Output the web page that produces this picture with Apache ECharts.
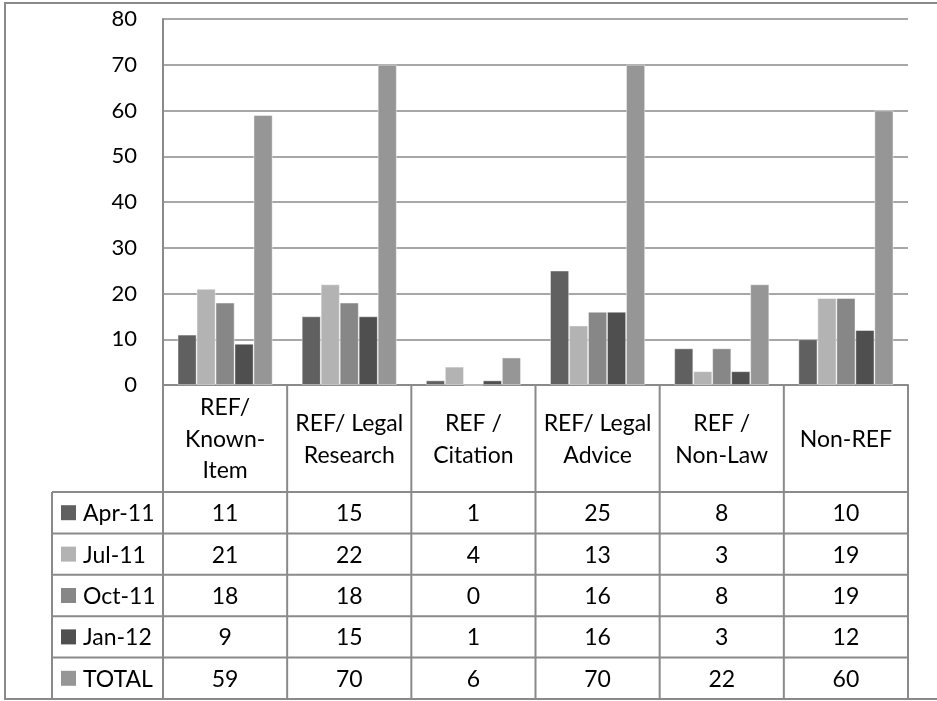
<!DOCTYPE html>
<html>
<head>
<meta charset="utf-8">
<script src="https://cdn.jsdelivr.net/npm/echarts@6/dist/echarts.min.js"></script>
<style>
  html, body { margin: 0; padding: 0; background: #fff; }
  #chart { width: 937px; height: 701px; }
</style>
</head>
<body>
<div id="chart"></div>
<script>
// Query categories (header row of the data table)
const categories = ['REF/\nKnown-\nItem', 'REF/ Legal\nResearch', 'REF /\nCitation', 'REF/ Legal\nAdvice', 'REF /\nNon-Law', 'Non-REF'];

// One series per sampling period, plus the total
const seriesNames = ['Apr-11', 'Jul-11', 'Oct-11', 'Jan-12', 'TOTAL'];
const apr11 = [11, 15, 1, 25, 8, 10];
const jul11 = [21, 22, 4, 13, 3, 19];
const oct11 = [18, 18, 0, 16, 8, 19];
const jan12 = [9, 15, 1, 16, 3, 12];
const total = [59, 70, 6, 70, 22, 60];

// Value axis ticks
const yMin = 0;
const yMax = 80;
const yStep = 10;

const seriesData = [apr11, jul11, oct11, jan12, total];
const colors = ['#606060', '#b3b3b3', '#878787', '#4f4f4f', '#969696'];

const FONT = 'Lato, "Open Sans", sans-serif';
const LINE = '#8a8a8a';
const TABLE_FONT = '23px ' + FONT;

const chart = echarts.init(document.getElementById('chart'), null, { renderer: 'canvas' });

const option = {
  backgroundColor: '#fff',
  animation: false,
  color: colors,
  grid: { left: 163, top: 19, right: 29, bottom: 316, containLabel: false },
  xAxis: {
    type: 'category',
    data: categories,
    axisLine: { show: true, lineStyle: { color: LINE, width: 2 } },
    axisTick: { show: false },
    axisLabel: { show: false },
    splitLine: { show: false }
  },
  yAxis: {
    type: 'value',
    min: yMin,
    max: yMax,
    interval: yStep,
    axisLine: { show: true, lineStyle: { color: LINE, width: 2 } },
    axisTick: { show: false },
    axisLabel: { color: '#000', fontFamily: FONT, fontSize: 22, margin: 26 },
    splitLine: { show: true, lineStyle: { color: LINE, width: 1.5 } }
  },
  series: seriesNames.map((name, i) => ({
    name: name,
    type: 'bar',
    data: seriesData[i],
    barGap: '0%',
    barCategoryGap: '23.5%',
    itemStyle: { color: colors[i], borderColor: 'rgba(255,255,255,0.55)', borderWidth: 0.8 }
  }))
};

chart.setOption(option);

// Data table below the plot: header row with the categories,
// then one row per series with its legend key and values.
function buildTable() {
  const yZero = chart.convertToPixel({ yAxisIndex: 0 }, 0);
  const c0 = chart.convertToPixel({ xAxisIndex: 0 }, 0);
  const c1 = chart.convertToPixel({ xAxisIndex: 0 }, 1);
  const band = c1 - c0;
  const left = c0 - band / 2;
  const right = left + band * categories.length;
  const legendLeft = 52;
  const headerH = 107;
  const rowH = 41.4;
  const headerBottom = yZero + headerH;
  const tableBottom = headerBottom + rowH * seriesNames.length;

  const els = [];
  const line = (x1, y1, x2, y2) => els.push({
    type: 'line', silent: true,
    shape: { x1, y1, x2, y2 },
    style: { stroke: LINE, lineWidth: 2 }
  });

  // outer frame
  els.push({
    type: 'rect', silent: true,
    shape: { x: 5, y: 3, width: 960, height: tableBottom - 3 },
    style: { fill: null, stroke: LINE, lineWidth: 2 }
  });

  // horizontal rules
  for (let r = 0; r <= seriesNames.length; r++) {
    const y = headerBottom + r * rowH;
    line(legendLeft, y, right, y);
  }
  // vertical rules
  line(left, yZero, left, tableBottom);
  for (let c = 1; c <= categories.length; c++) {
    const x = left + c * band;
    line(x, yZero, x, tableBottom);
  }
  line(legendLeft, headerBottom, legendLeft, tableBottom);

  // header labels
  categories.forEach((cat, c) => {
    els.push({
      type: 'text', silent: true,
      x: chart.convertToPixel({ xAxisIndex: 0 }, c),
      y: yZero + headerH / 2 + 1,
      style: {
        text: cat, fill: '#000', font: TABLE_FONT,
        align: 'center', verticalAlign: 'middle', lineHeight: 31.5
      }
    });
  });

  // rows
  seriesNames.forEach((name, r) => {
    const cy = headerBottom + r * rowH + rowH / 2;
    els.push({
      type: 'rect', silent: true,
      shape: { x: 61, y: cy - 7.5, width: 15, height: 15 },
      style: { fill: colors[r] }
    });
    els.push({
      type: 'text', silent: true,
      x: 83, y: cy + 1,
      style: { text: name, fill: '#000', font: TABLE_FONT, align: 'left', verticalAlign: 'middle' }
    });
    seriesData[r].forEach((v, c) => {
      els.push({
        type: 'text', silent: true,
        x: chart.convertToPixel({ xAxisIndex: 0 }, c), y: cy + 1,
        style: { text: String(v), fill: '#000', font: TABLE_FONT, align: 'center', verticalAlign: 'middle' }
      });
    });
  });

  chart.setOption({ graphic: { elements: els } });
}

buildTable();
</script>
</body>
</html>
